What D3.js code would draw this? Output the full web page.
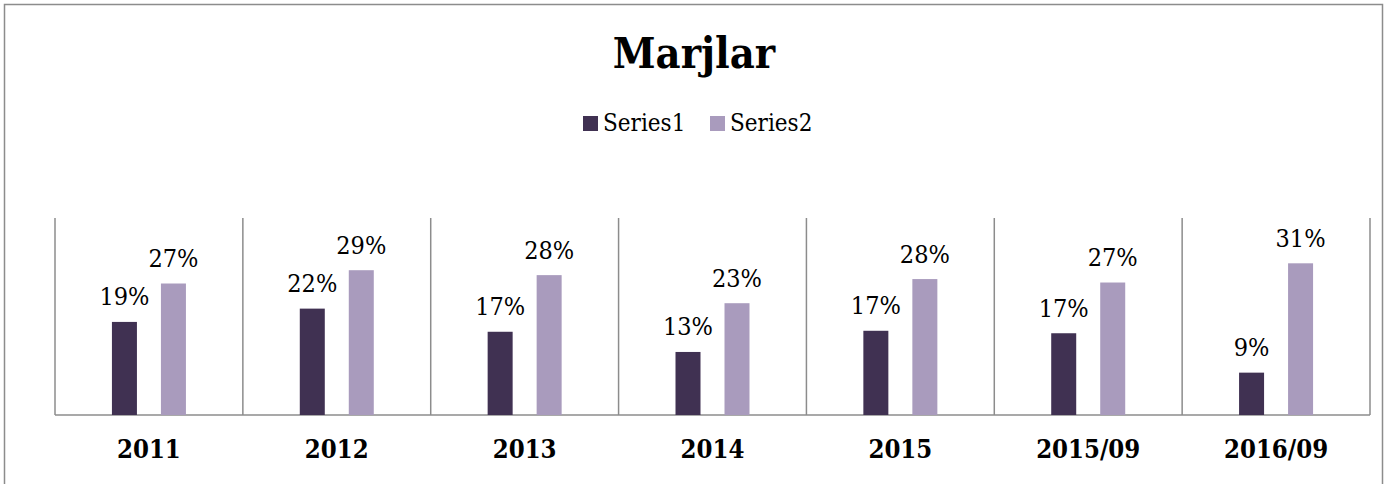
<!DOCTYPE html>
<html><head>
<meta charset="utf-8">
<script src="https://d3js.org/d3.v7.min.js"></script>
<style>
  body { margin: 0; background: #fff; }
  text { font-family: "DejaVu Serif", "Liberation Serif", serif; font-stretch: condensed; fill: #000; }
  .frame { fill: none; stroke: #8c8c8c; stroke-width: 1.5px; }
  .grid { stroke: #8c8c8c; stroke-width: 1.5px; }
</style>
</head>
<body>
<svg id="chart" width="1390" height="484"></svg>
<script>
// categories and series values (fractions)
const categories = ["2011", "2012", "2013", "2014", "2015", "2015/09", "2016/09"];
const series1 = [0.189, 0.216, 0.169, 0.128, 0.171, 0.166, 0.086];
const series2 = [0.267, 0.294, 0.284, 0.227, 0.276, 0.269, 0.308];
const seriesNames = ["Series1", "Series2"];
const colors = ["#403152", "#a99bbd"];

const svg = d3.select("#chart");

// outer chart frame (no bottom edge visible)
svg.append("path").attr("class", "frame")
   .attr("d", "M4.5,484 V4.5 H1382.5 V484");

const plotL = 55, plotR = 1370, plotT = 218, plotB = 415;

const x = d3.scaleBand().domain(categories).range([plotL, plotR]);
const y = d3.scaleLinear().domain([0, 0.40]).range([plotB, plotT]);
// two bars of 25px with a 24px gap, centred in each category
const xs = d3.scaleBand().domain(seriesNames).range([0, 74]).paddingInner(24 / 49);

// title
svg.append("text").attr("x", 694).attr("y", 68)
   .attr("text-anchor", "middle")
   .style("font-size", "43px").style("font-weight", "bold")
   .text("Marjlar");

// legend
const legend = svg.append("g");
const legX = [583, 710];
seriesNames.forEach((s, i) => {
  legend.append("rect").attr("x", legX[i]).attr("y", 116).attr("width", 15).attr("height", 15)
        .attr("fill", colors[i]);
  legend.append("text").attr("x", legX[i] + 20).attr("y", 131)
        .style("font-size", "24px").text(s);
});

// category separators
const g = svg.append("g");
g.selectAll("line.sep").data(categories.concat(["end"]))
  .join("line").attr("class", "grid")
  .attr("x1", (d, i) => plotL + i * x.bandwidth()).attr("x2", (d, i) => plotL + i * x.bandwidth())
  .attr("y1", plotT).attr("y2", plotB);
g.append("line").attr("class", "grid")
  .attr("x1", plotL).attr("x2", plotR).attr("y1", plotB).attr("y2", plotB);

// bars + labels
const rows = categories.map((c, i) => ({ cat: c, vals: [series1[i], series2[i]] }));
const fmt = d3.format(".0%");
rows.forEach(r => {
  const x0 = x(r.cat) + (x.bandwidth() - 74) / 2;
  r.vals.forEach((v, j) => {
    const bx = x0 + xs(seriesNames[j]);
    g.append("rect").attr("x", bx).attr("y", y(v))
      .attr("width", xs.bandwidth()).attr("height", plotB - y(v))
      .attr("fill", colors[j]);
    g.append("text").attr("x", bx + xs.bandwidth() / 2).attr("y", y(v) - 16.5)
      .attr("text-anchor", "middle").style("font-size", "25px")
      .text(fmt(v));
  });
});

// category axis labels
svg.append("g").selectAll("text").data(categories).join("text")
   .attr("x", d => x(d) + x.bandwidth() / 2).attr("y", 458)
   .attr("text-anchor", "middle")
   .style("font-size", "25.5px").style("font-weight", "bold")
   .text(d => d);
</script>
</body>
</html>
